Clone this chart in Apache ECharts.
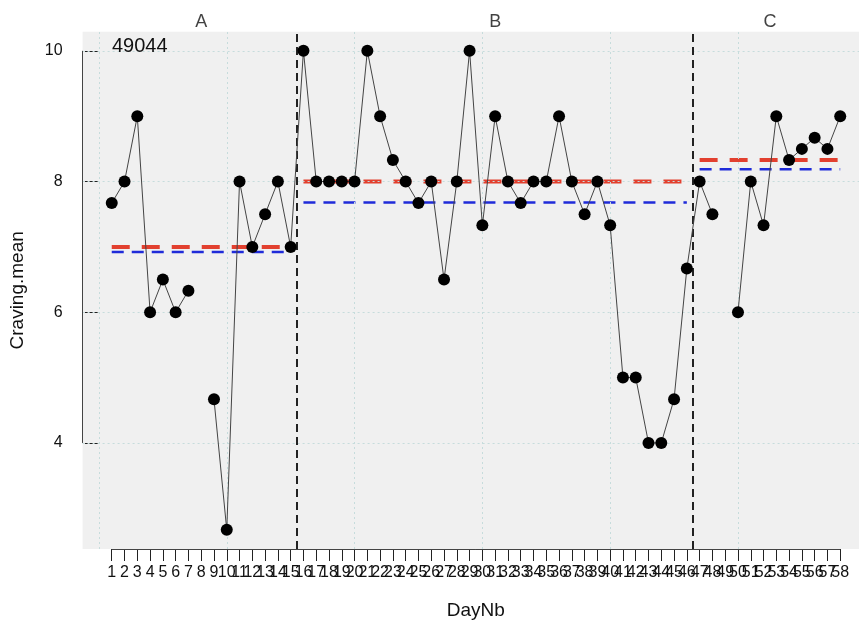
<!DOCTYPE html>
<html><head><meta charset="utf-8">
<script src="https://cdn.jsdelivr.net/npm/echarts@6/dist/echarts.min.js"></script>
<style>html,body{margin:0;padding:0;background:#fff}#c{width:859px;height:625px}</style>
</head><body><div id="c"></div>
<script>
// ---- data ----
const days = [];
for (let d = 1; d <= 58; d++) days.push(d);
const craving = [
  7.67, 8, 9, 6, 6.5, 6, 6.33, null, 4.67, 2.67, 8, 7, 7.5, 8, 7,
  10, 8, 8, 8, 8, 10, 9, 8.33, 8, 7.67, 8, 6.5, 8, 10, 7.33, 9, 8, 7.67, 8, 8, 9, 8, 7.5, 8, 7.33, 5, 5, 4, 4, 4.67, 6.67,
  8, 7.5, null, 6, 8, 7.33, 9, 8.33, 8.5, 8.67, 8.5, 9
];
const phaseNames = ['A', 'B', 'C'];
const phaseStart = [1, 16, 47];
const phaseEnd = [15, 46, 58];
const phaseLabelX = [8, 31, 52.5];
const phaseMedian = [7, 8, 8.33];
const phaseMean = [6.92, 7.68, 8.19];
const phaseBoundaries = [15.5, 46.5];
const yTicks = [4, 6, 8, 10];
const xGridValues = [0, 10, 20, 30, 40, 50];
const subjectId = '49044';

// ---- scales (R lattice style 4% padding; panel is cut off at the right edge) ----
const vals = craving.filter(v => v !== null);
const dMin = Math.min(...vals), dMax = Math.max(...vals);
const yMin = dMin - 0.04 * (dMax - dMin), yMax = dMax + 0.04 * (dMax - dMin);
const xMin = days[0] - 0.04 * (days[days.length - 1] - days[0]);
const xMax = 59.47;
const oddDays = days.filter(d => d % 2 === 1);
const evenDays = days.filter(d => d % 2 === 0);

const FONT = '"Liberation Sans", Arial, Helvetica, sans-serif';
const TXT = '#111';
const chart = echarts.init(document.getElementById('c'));

const series = [];
series.push({
  type: 'line', data: [], silent: true, z: 1,
  markLine: {
    silent: true, symbol: 'none', label: { show: false }, animation: false,
    lineStyle: { color: '#c6dcdc', type: [2, 3], width: 1 },
    data: xGridValues.map(v => ({ xAxis: v })).concat(yTicks.map(v => ({ yAxis: v })))
  }
});
phaseNames.forEach((p, i) => {
  series.push({
    type: 'line', symbol: 'none', silent: true, z: 3,
    data: [[phaseStart[i], phaseMedian[i]], [phaseEnd[i], phaseMedian[i]]],
    lineStyle: { color: '#e2402f', width: 4, type: [18, 12] }
  });
  series.push({
    type: 'line', symbol: 'none', silent: true, z: 3,
    data: [[phaseStart[i], phaseMean[i]], [phaseEnd[i], phaseMean[i]]],
    lineStyle: { color: '#1f2bd9', width: 2.5, type: [12, 8] }
  });
});
series.push({
  type: 'line', data: [], silent: true, z: 4,
  markLine: {
    silent: true, symbol: 'none', label: { show: false }, animation: false,
    lineStyle: { color: '#222', type: [8, 5], width: 2 },
    data: phaseBoundaries.map(v => ({ xAxis: v }))
  }
});
series.push({
  type: 'line', data: [], silent: true, z: 4,
  markLine: {
    silent: true, symbol: 'none', label: { show: false }, animation: false,
    lineStyle: { color: '#444', type: 'solid', width: 1 },
    data: [
      [{ coord: [xMin, yTicks[0]] }, { coord: [xMin, yTicks[yTicks.length - 1]] }],
      [{ coord: [days[0], yMin] }, { coord: [days[days.length - 1], yMin] }]
    ]
  }
});
series.push({
  type: 'line', z: 10, connectNulls: false, symbol: 'circle', symbolSize: 12,
  data: days.map((d, i) => [d, craving[i]]),
  itemStyle: { color: '#000' },
  lineStyle: { color: '#444', width: 1 }
});
series.push({
  type: 'scatter', symbolSize: 0, clip: false, silent: true, z: 12,
  data: phaseNames.map((n, i) => ({ name: n, value: [phaseLabelX[i], yMax] })),
  label: { show: true, position: 'top', distance: 1, formatter: '{b}', fontSize: 18, color: TXT, fontFamily: FONT }
});

const xLabelStyle = { fontSize: 16, color: TXT, margin: 16, hideOverlap: false, showMinLabel: true, showMaxLabel: true, fontFamily: FONT };

chart.setOption({
  animation: false,
  textStyle: { fontFamily: FONT },
  title: { text: subjectId, left: 112, top: 36, padding: 0, textStyle: { fontSize: 20, fontWeight: 'normal', color: TXT, fontFamily: FONT } },
  grid: { left: 82.6, right: 0, top: 31.7, bottom: 71.9, show: true, backgroundColor: '#f0f0f0', borderWidth: 0 },
  xAxis: [{
    type: 'value', min: xMin, max: xMax, position: 'bottom', offset: 0,
    name: 'DayNb', nameLocation: 'middle', nameGap: 52,
    nameTextStyle: { fontSize: 19, color: TXT, fontFamily: FONT, padding: [0, 0, 0, 10] },
    axisLine: { show: false }, splitLine: { show: false },
    axisTick: { show: true, length: 12, customValues: days, lineStyle: { color: '#222', width: 1 } },
    axisLabel: Object.assign({ customValues: oddDays }, xLabelStyle)
  }, {
    type: 'value', min: xMin, max: xMax, position: 'bottom', offset: 0,
    axisLine: { show: false }, splitLine: { show: false }, axisTick: { show: false },
    axisLabel: Object.assign({ customValues: evenDays }, xLabelStyle)
  }],
  yAxis: {
    type: 'value', min: yMin, max: yMax,
    name: 'Craving.mean', nameLocation: 'middle', nameRotate: 90, nameGap: 55,
    nameTextStyle: { fontSize: 19, color: TXT, fontFamily: FONT },
    axisLine: { show: false }, splitLine: { show: false },
    axisTick: { show: true, length: 14, customValues: yTicks, lineStyle: { color: '#222', width: 1 } },
    axisLabel: { customValues: yTicks, fontSize: 16, color: TXT, margin: 20, hideOverlap: false, showMinLabel: true, showMaxLabel: true, fontFamily: FONT }
  },
  series: series
});
</script>
</body></html>
